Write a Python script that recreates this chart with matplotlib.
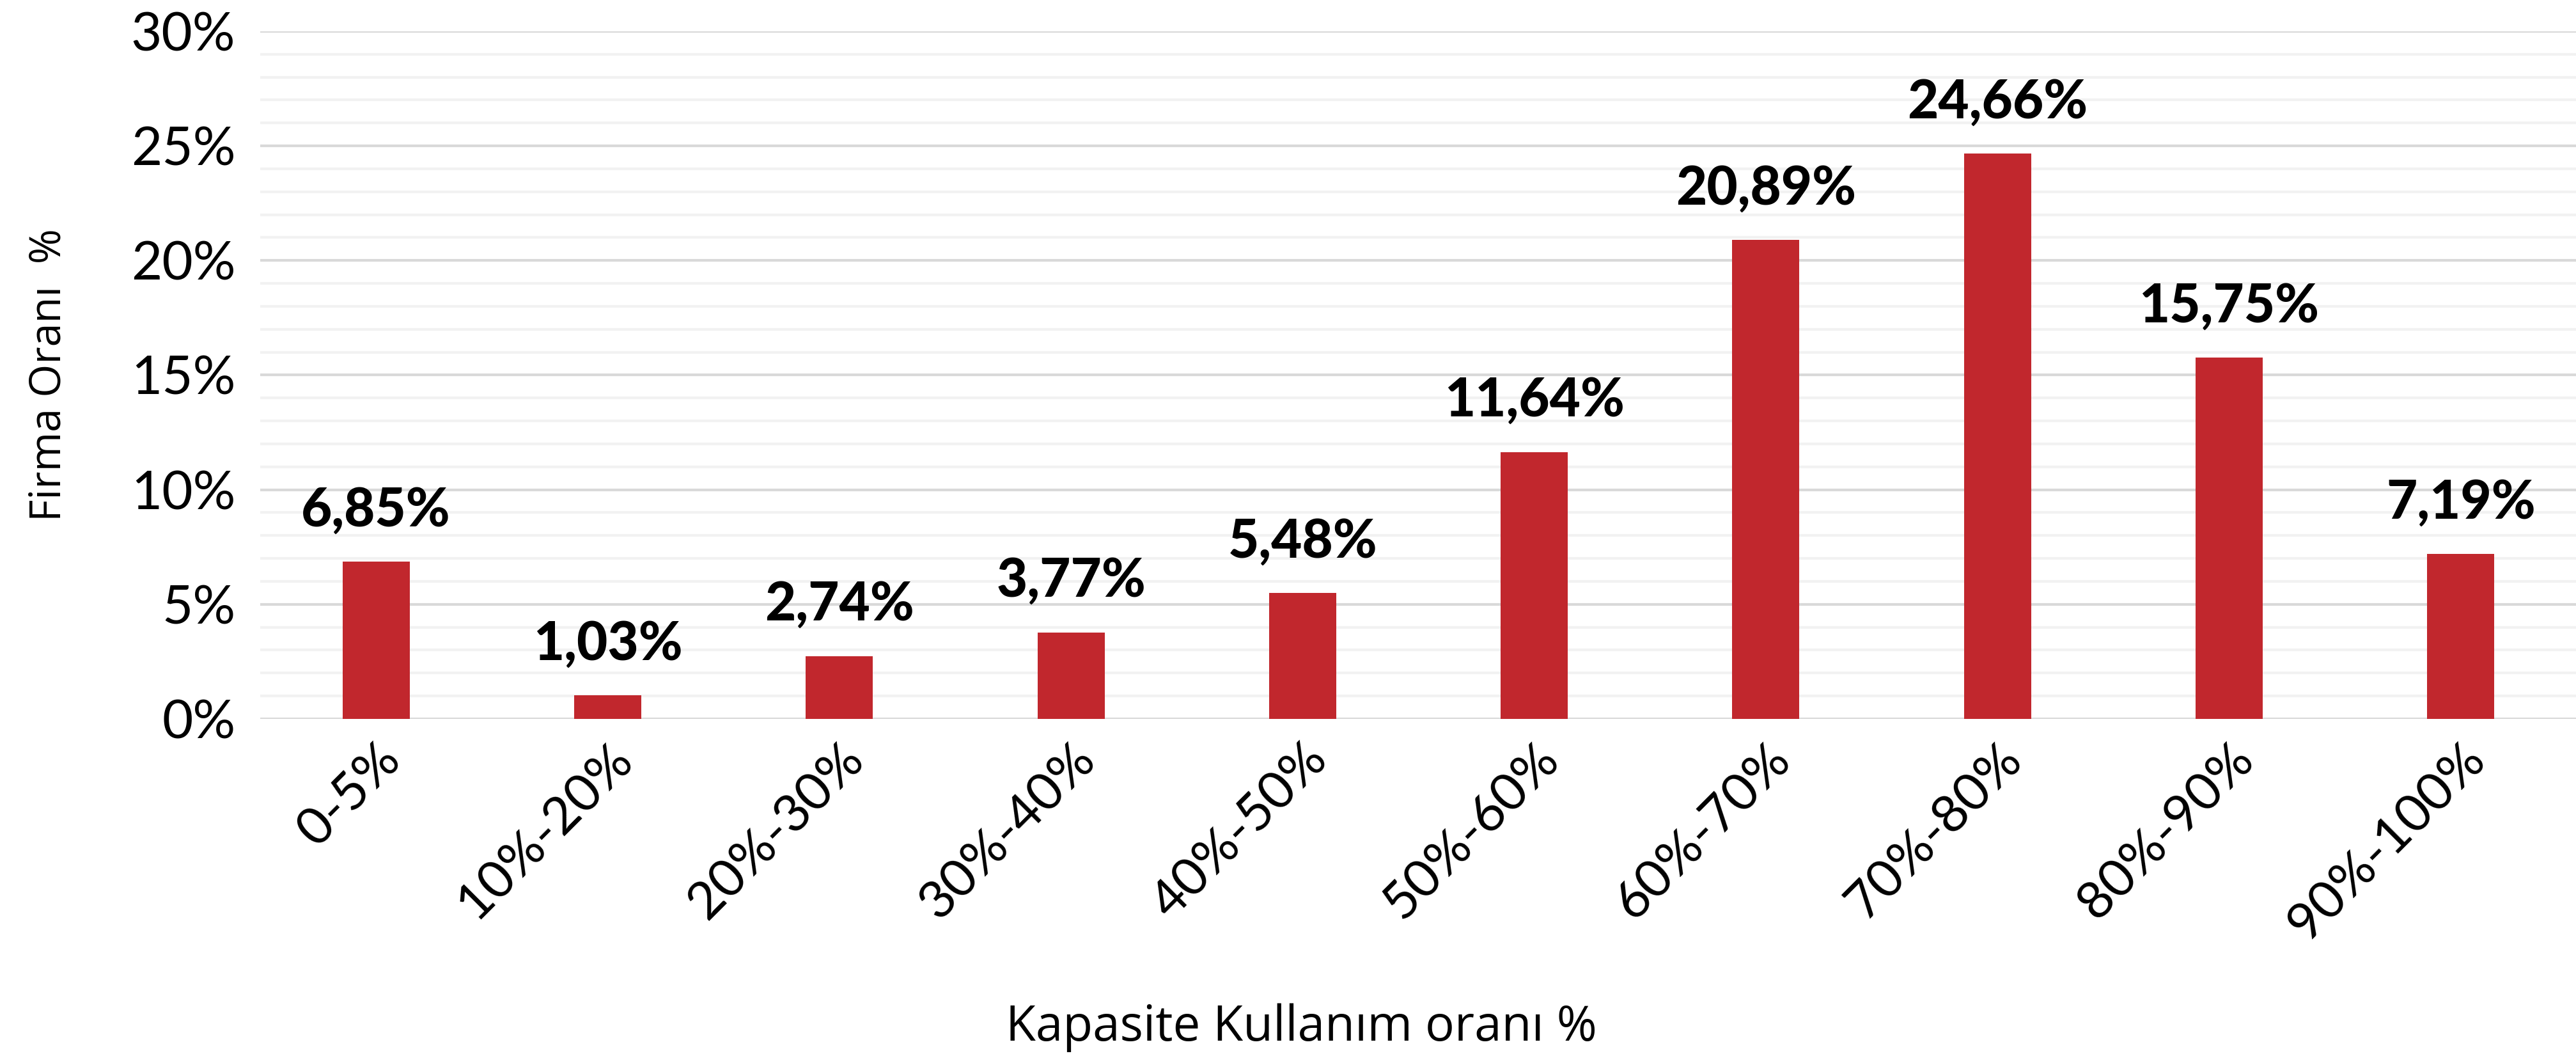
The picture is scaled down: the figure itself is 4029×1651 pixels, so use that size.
import matplotlib
matplotlib.use("Agg")
import matplotlib.pyplot as plt
import numpy as np
from matplotlib.ticker import MultipleLocator, FuncFormatter

categories = ["0-5%", "10%-20%", "20%-30%", "30%-40%", "40%-50%",
              "50%-60%", "60%-70%", "70%-80%", "80%-90%", "90%-100%"]
values = [6.85, 1.03, 2.74, 3.77, 5.48, 11.64, 20.89, 24.66, 15.75, 7.19]

bar_color = "#C1272D"

plt.rcParams["font.family"] = ["Lato", "DejaVu Sans"]

fig = plt.figure(figsize=(40.30, 16.51), dpi=100)
ax = fig.add_axes([0.101, 0.3193, 0.899, 0.6511])

x = np.arange(len(categories))
ax.bar(x, values, width=0.29, color=bar_color, zorder=3)

ax.set_xlim(-0.5, len(categories) - 0.5)
ax.set_ylim(0, 30)
ax.yaxis.set_major_locator(MultipleLocator(5))
ax.yaxis.set_minor_locator(MultipleLocator(1))
ax.yaxis.set_major_formatter(FuncFormatter(lambda v, p: f"{int(v)}%"))
ax.grid(axis="y", which="major", color="#D9D9D9", linewidth=3, zorder=0)
ax.grid(axis="y", which="minor", color="#F2F2F2", linewidth=3, zorder=0)
ax.set_axisbelow(True)
for s in ax.spines.values():
    s.set_visible(False)
ax.tick_params(axis="both", which="both", length=0)
ax.tick_params(axis="y", labelsize=60, pad=28)

ax.set_xticks(x)
ax.set_xticklabels(categories, rotation=45, ha="right", rotation_mode="anchor",
                   fontsize=59)
ax.tick_params(axis="x", pad=18)

for xi, v in zip(x, values):
    ax.annotate(f"{v:.2f}%".replace(".", ","), (xi, v), xytext=(0, 30),
                textcoords="offset points", ha="center", va="bottom",
                fontsize=60, fontweight="black")

fig.text(0.505, 0.027, "Kapasite Kullanım oranı %", ha="center", va="center",
         fontsize=55, family=["Open Sans", "DejaVu Sans"])
fig.text(0.019, 0.645, "Firma Oranı  %", ha="center", va="center",
         rotation=90, fontsize=48, family=["Open Sans", "DejaVu Sans"])

fig.savefig("out.png", dpi=100)
